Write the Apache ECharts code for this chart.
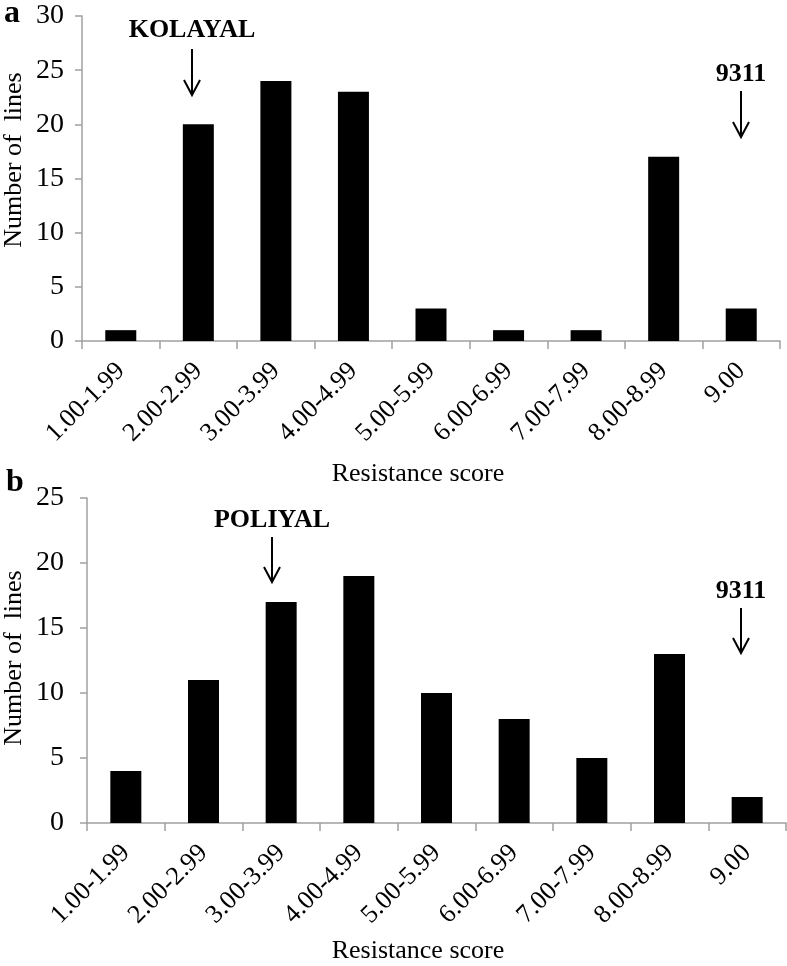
<!DOCTYPE html>
<html>
<head>
<meta charset="utf-8">
<style>
  html, body { margin: 0; padding: 0; background: #fff; }
  #chart { width: 787px; height: 966px; }
</style>
<script src="https://cdn.jsdelivr.net/npm/echarts@6/dist/echarts.min.js"></script>
</head>
<body>
<div id="chart"></div>
<script>
const categories = ['1.00-1.99','2.00-2.99','3.00-3.99','4.00-4.99','5.00-5.99','6.00-6.99','7.00-7.99','8.00-8.99','9.00'];
const valuesA = [1, 20, 24, 23, 3, 1, 1, 17, 3];
const valuesB = [4, 11, 17, 19, 10, 8, 5, 13, 2];
const yTitle = 'Number of  lines';
const xTitle = 'Resistance score';

const FONT = '"Liberation Serif", "Times New Roman", serif';
const AXIS_COLOR = '#a0a0a0';

function xAxisFor(gridIndex) {
  return {
    type: 'category', gridIndex: gridIndex, data: categories,
    axisLine: { lineStyle: { color: AXIS_COLOR, width: 1.5 } },
    axisTick: { show: true, length: 8, lineStyle: { color: AXIS_COLOR, width: 1.5 } },
    axisLabel: { rotate: 45, margin: 26, fontFamily: FONT, fontSize: 26, color: '#000', interval: 0 },
    splitLine: { show: false }
  };
}
function yAxisFor(gridIndex, max, margin) {
  return {
    type: 'value', gridIndex: gridIndex, min: 0, max: max, interval: 5,
    axisLine: { show: true, lineStyle: { color: AXIS_COLOR, width: 1.5 } },
    axisTick: { show: true, length: 7, lineStyle: { color: AXIS_COLOR, width: 1.5 } },
    axisLabel: { margin: margin, fontFamily: FONT, fontSize: 28, color: '#000' },
    splitLine: { show: false }
  };
}
function arrow(x, y1, y2) {
  return {
    type: 'group',
    children: [
      { type: 'line', shape: { x1: x, y1: y1, x2: x, y2: y2 }, style: { stroke: '#000', lineWidth: 2 } },
      { type: 'polyline', shape: { points: [[x - 8, y2 - 15], [x, y2], [x + 8, y2 - 15]] }, style: { stroke: '#000', lineWidth: 2, fill: null } }
    ]
  };
}
function txt(x, y, text, size, bold, rot) {
  return {
    type: 'text', x: x, y: y, rotation: rot || 0,
    style: { text: text, fontFamily: FONT, fontSize: size, fontWeight: bold ? 'bold' : 'normal',
             fill: '#000', align: 'center', verticalAlign: 'middle' }
  };
}

const chart = echarts.init(document.getElementById('chart'), null, { renderer: 'canvas' });
chart.setOption({
  backgroundColor: '#fff',
  animation: false,
  grid: [
    { left: 82, top: 16, width: 698, height: 325 },
    { left: 87, top: 498, width: 699, height: 325 }
  ],
  xAxis: [xAxisFor(0), xAxisFor(1)],
  yAxis: [yAxisFor(0, 30, 18), yAxisFor(1, 25, 23)],
  series: [
    { type: 'bar', xAxisIndex: 0, yAxisIndex: 0, data: valuesA, barWidth: 31, itemStyle: { color: '#000' } },
    { type: 'bar', xAxisIndex: 1, yAxisIndex: 1, data: valuesB, barWidth: 31, itemStyle: { color: '#000' } }
  ],
  graphic: [
    txt(12, 14, 'a', 32, true),
    txt(15, 483, 'b', 32, true),
    txt(14, 160, yTitle, 26, false, Math.PI / 2),
    txt(14, 658, yTitle, 26, false, Math.PI / 2),
    txt(418, 474, xTitle, 26, false),
    txt(418, 951, xTitle, 26, false),
    txt(192, 30, 'KOLAYAL', 26, true),
    arrow(192, 49, 95),
    txt(741, 74, '9311', 26, true),
    arrow(741, 91, 137),
    txt(272, 520, 'POLIYAL', 26, true),
    arrow(272, 537, 582),
    txt(741, 591, '9311', 26, true),
    arrow(741, 608, 653)
  ]
});
</script>
</body>
</html>
